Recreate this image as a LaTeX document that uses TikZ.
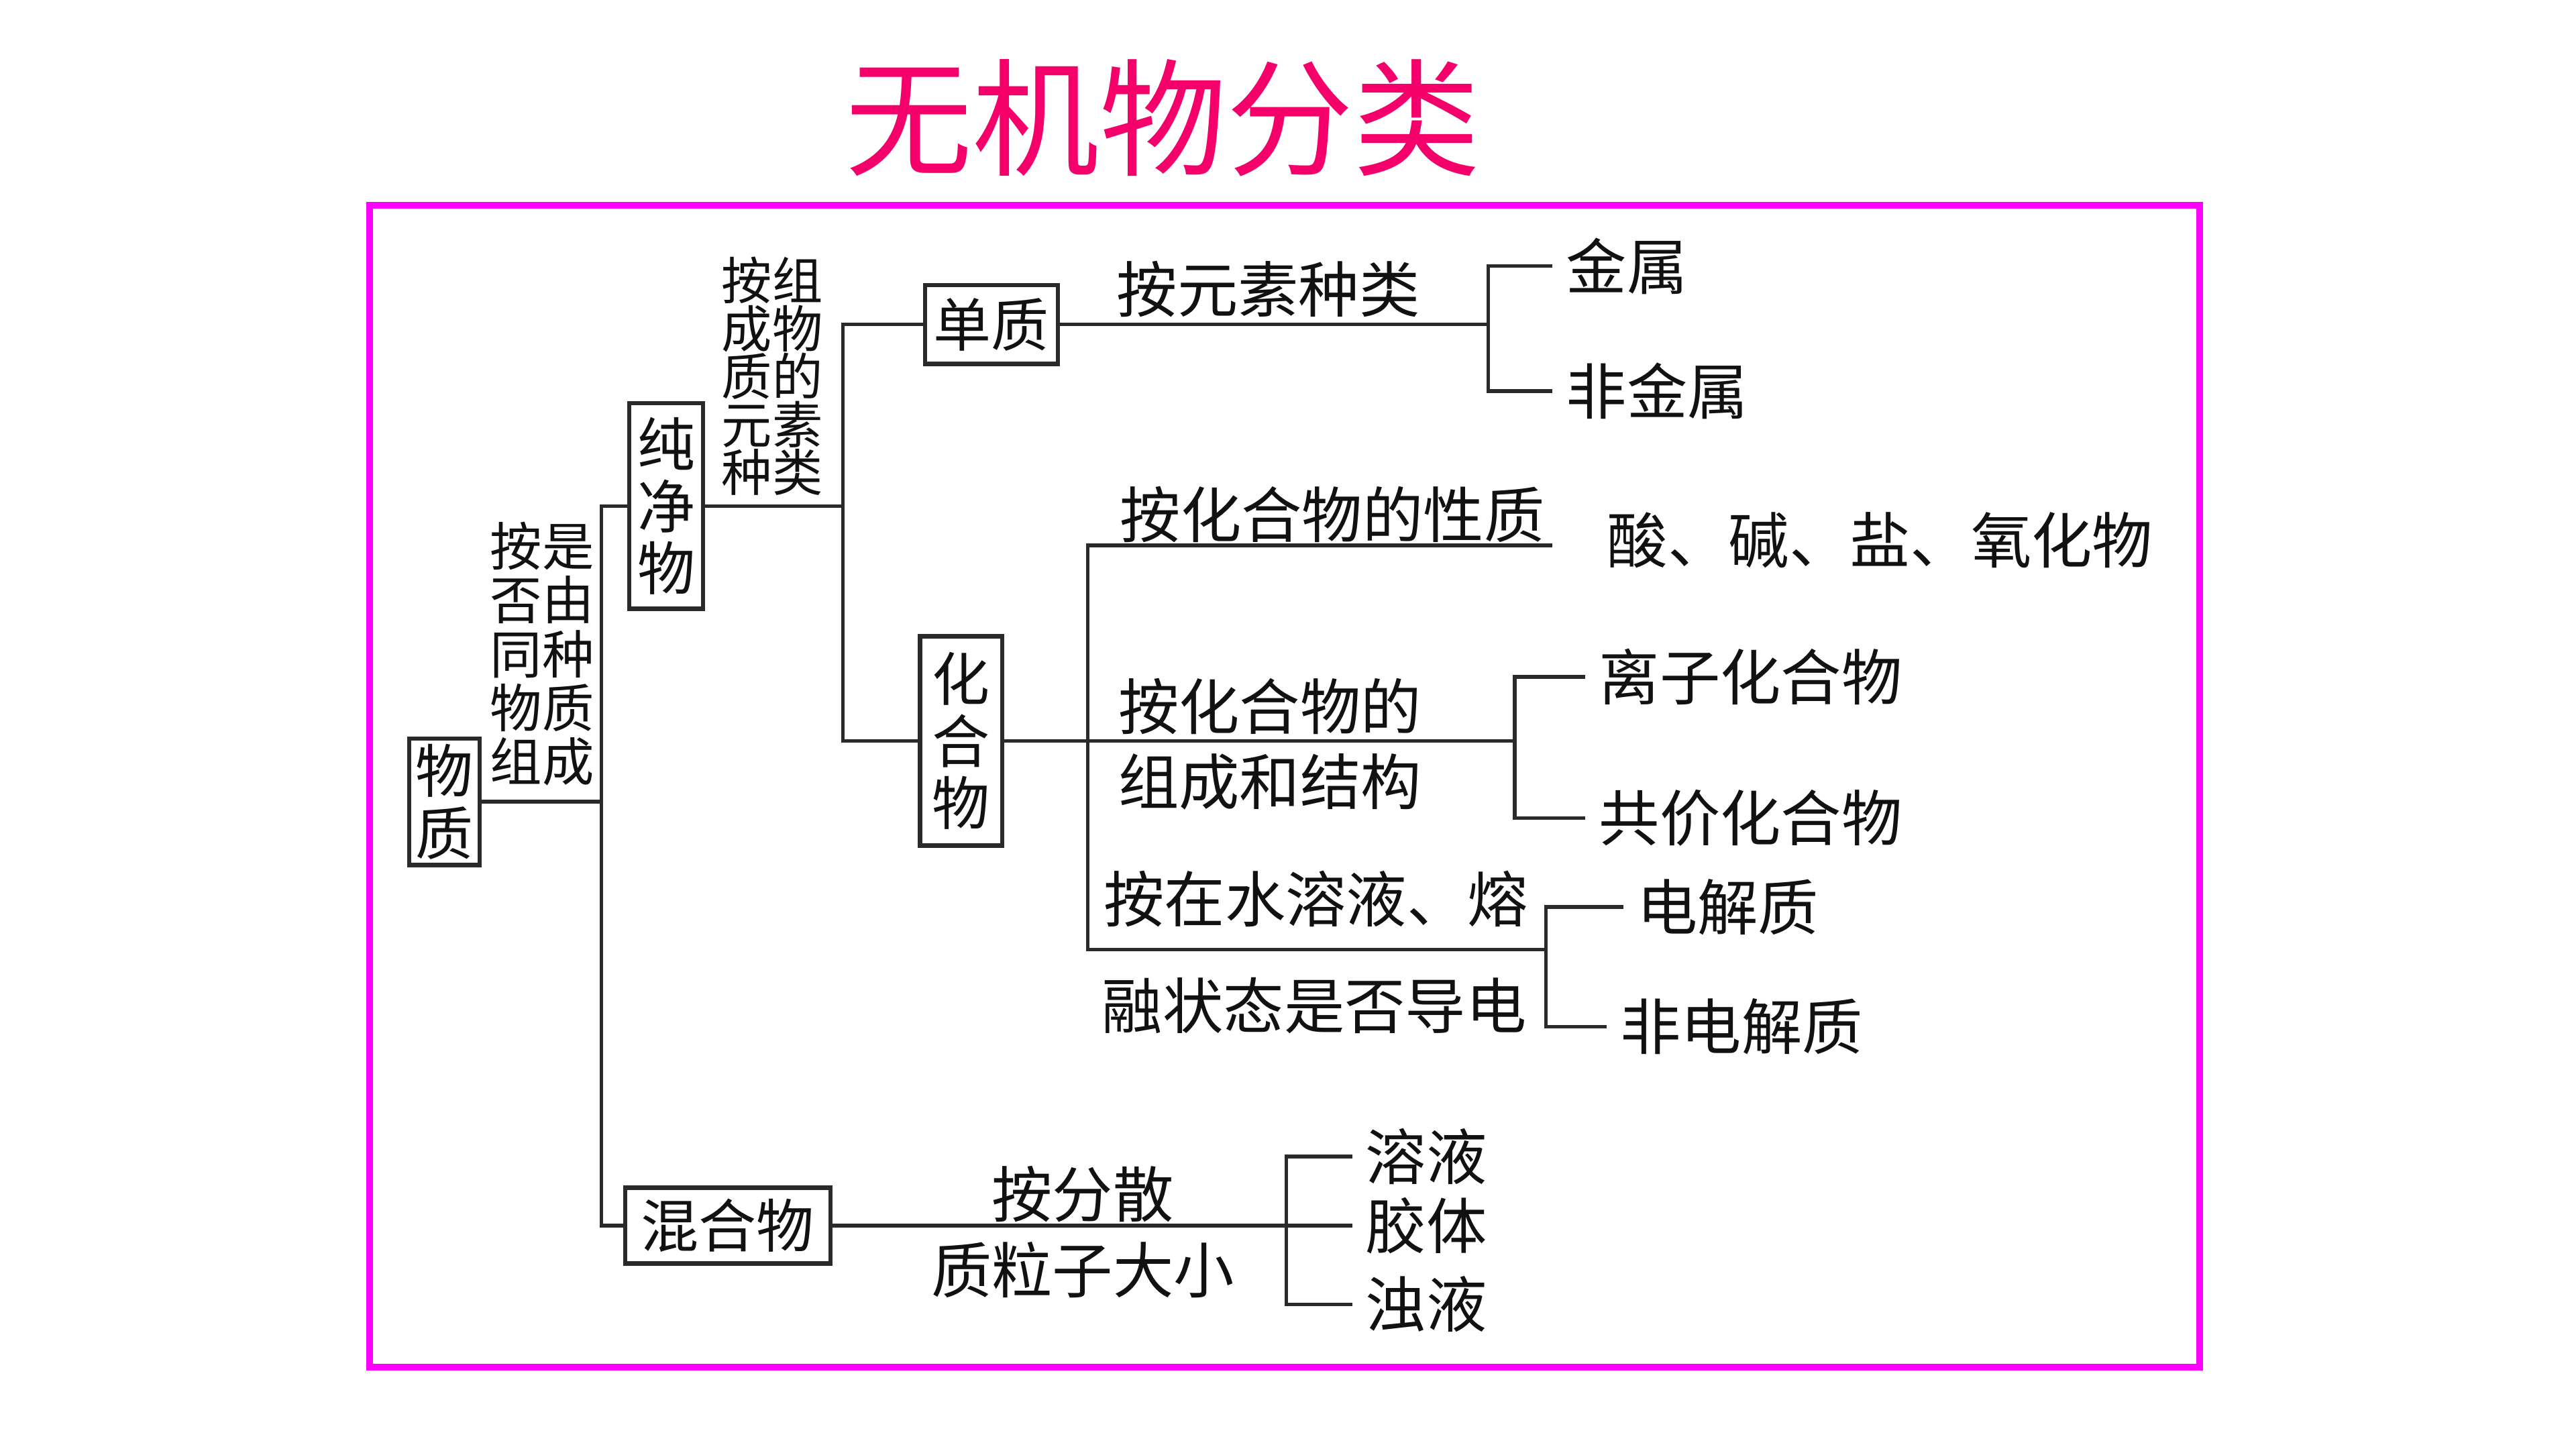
\documentclass[tikz,border=0pt]{standalone}
\usepackage{fontspec}
\usepackage{xcolor}
\usepackage{tikz}
\usetikzlibrary{positioning,calc}
\newfontfamily\cjk{Noto Sans CJK SC}
\definecolor{inkK}{HTML}{111111}
\definecolor{lineK}{HTML}{2A2A2A}
\definecolor{cTitle}{HTML}{F5006A}
\definecolor{cFrame}{HTML}{FF00FF}

\tikzset{
  box/.style={draw=lineK, line width=1.5pt, inner sep=0pt, align=center,
              text=inkK, font=\cjk\fontsize{20}{21.5}\selectfont},
  lbl/.style={inner sep=0pt, text=inkK, font=\cjk\fontsize{21}{23}\selectfont},
  leaf/.style={lbl, anchor=west, inner xsep=0.16cm},
  stackA/.style={lbl, align=center, font=\cjk\fontsize{18}{18.7}\selectfont},
  stackB/.style={lbl, align=center, font=\cjk\fontsize{17.5}{16.6}\selectfont},
  conn/.style={draw=lineK, line width=1.25pt},
}

\begin{document}
\begin{tikzpicture}[x=0.02cm, y=-0.02cm]
  \useasboundingbox (0,0) rectangle (1568,882);
  \fill[white] (0,0) rectangle (1568,882);

  % title and frame
  \node[inner sep=0pt, text=cTitle, font=\cjk\fontsize{44}{48}\selectfont] (title) at (708,72) {无机物分类};
  \draw[cFrame, line width=2.3pt] (225,125) rectangle (1339,832);

  % boxes
  \node[box, minimum width=0.86cm, minimum height=1.54cm] (wuzhi) at (270.5,488) {物\\质};
  \node[box, minimum width=0.9cm, minimum height=2.5cm] (chunjing) at (405.5,308) {纯\\净\\物};
  \node[box, minimum width=2.5cm, minimum height=0.92cm] (hunhe) at (443,746) {混合物};
  \node[box, minimum width=1.62cm, minimum height=0.96cm] (danzhi) at (603.5,197.5) {单质};
  \node[box, minimum width=1.0cm, minimum height=2.55cm] (huahe) at (585,451) {化\\合\\物};

  % junctions
  \coordinate (t1) at (366,488);
  \coordinate (t2) at (513,308);
  \coordinate (t3) at (662,451);
  \coordinate (b1) at (906,197.5);
  \coordinate (b2) at (922,451);
  \coordinate (b3) at (941,578);
  \coordinate (b4) at (783,746);
  \coordinate (p1) at (945,332);

  % leaves
  \node[leaf] (jinshu) at (945,162) {金属};
  \node[leaf] (feijin) at (945,238) {非金属};
  \node[leaf] (lizi) at (965,412) {离子化合物};
  \node[leaf] (gongjia) at (965,498) {共价化合物};
  \node[leaf] (dianjie) at (988,552) {电解质};
  \node[leaf] (feidian) at (978,625) {非电解质};
  \node[leaf] (rongye) at (823,704) {溶液};
  \node[leaf] (jiaoti) at (823,746) {胶体};
  \node[leaf] (zhuoye) at (823,794) {浊液};
  \node[lbl, anchor=west] (suanjian) at (978,329) {酸、碱、盐、氧化物};

  % criteria
  \node[stackA] (byzucheng) at (330,398) {按是\\否由\\同种\\物质\\组成};
  \node[stackB] (byyuansu) at (470,229) {按组\\成物\\质的\\元素\\种类};
  \node[lbl] (byzhonglei) at (772,176) {按元素种类};
  \node[lbl] (byxingzhi) at (811,313) {按化合物的性质};
  \node[lbl] (byjiegouA) at (773,430) {按化合物的};
  \node[lbl] (byjiegouB) at (773,476) {组成和结构};
  \node[lbl] (bydaodianA) at (801,547) {按在水溶液、熔};
  \node[lbl] (bydaodianB) at (800,612) {融状态是否导电};
  \node[lbl] (byfensanA) at (659,727) {按分散};
  \node[lbl] (byfensanB) at (659,773) {质粒子大小};

  % connectors
  \draw[conn] (wuzhi.east) -- (t1);
  \draw[conn] (chunjing.west) -| (t1 |- hunhe.west) -- (hunhe.west);
  \draw[conn] (chunjing.east) -- (t2);
  \draw[conn] (danzhi.west) -| (t2 |- huahe.west) -- (huahe.west);
  \draw[conn] (danzhi.east) -- (b1);
  \draw[conn] (jinshu.west) -| (b1) |- (feijin.west);
  \draw[conn] (huahe.east) -- (b2);
  \draw[conn] (lizi.west) -| (b2) |- (gongjia.west);
  \draw[conn] (p1) -| (t3 |- b3) -- (b3);
  \draw[conn] (dianjie.west) -| (b3) |- (feidian.west);
  \draw[conn] (hunhe.east) -- (b4);
  \draw[conn] (rongye.west) -| (b4) |- (zhuoye.west);
  \draw[conn] (b4) -- (jiaoti.west);
\end{tikzpicture}
\end{document}
